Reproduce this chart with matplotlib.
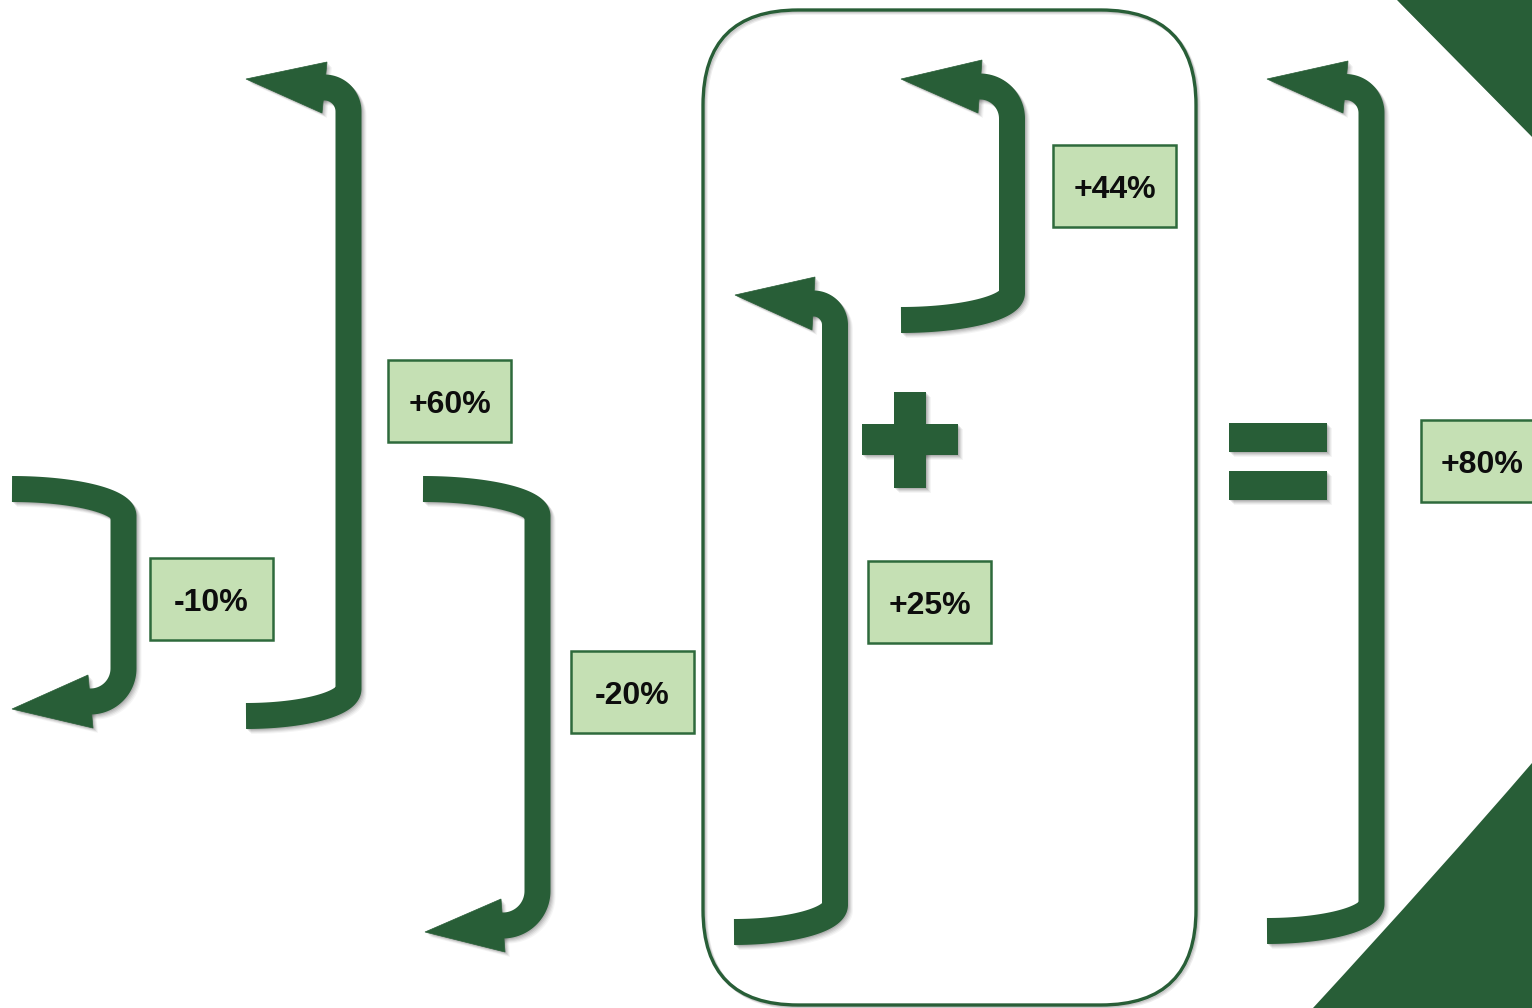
import numpy as np
import matplotlib
matplotlib.use("Agg")
import matplotlib.pyplot as plt
from matplotlib.patches import Polygon, Rectangle, FancyBboxPatch, PathPatch
from matplotlib.path import Path
from matplotlib.transforms import offset_copy

# ---- data ----
labels = ['-10%', '+60%', '-20%', '+25%', '+44%', '+80%']
operators = ['+', '=']

# ---- layout (pixel coordinates, y downward) ----
tail_x = [12, 246, 423, 734, 901, 1267]
tail_y = [489, 716, 489, 932, 320, 931]
stem_x = [123.5, 348.5, 537.5, 835, 1012, 1371.5]
head_top = [(88, 675), (327, 62), (501, 899), (815, 277), (982, 60), (1348, 61)]
head_bot = [(93, 728), (322, 113), (505, 952), (812, 330), (978, 113), (1343, 113)]
head_tip = [(12, 709), (246, 79), (425, 932), (735, 295), (901, 79), (1267, 79)]
label_box = [(150, 558), (388, 360), (571, 651), (868, 561), (1053, 145), (1421, 420)]
LBW, LBH = 123, 82

GREEN = '#285E37'
LIGHT = '#C5E0B4'
EDGE = '#2E6A3C'

W, H = 1532, 1008
fig = plt.figure(figsize=(W / 100, H / 100), dpi=100)
ax = fig.add_axes([0, 0, 1, 1])
ax.set_xlim(0, W)
ax.set_ylim(H, 0)
ax.axis('off')

LW = 26 * 0.72
SHADOW = [(1, 0.10), (2, 0.08), (3, 0.07), (4, 0.05), (5, 0.04)]


def shadows_line(xs, ys, lw):
    for d, a in SHADOW:
        tr = offset_copy(ax.transData, fig=fig, x=d, y=-d, units='dots')
        ax.plot(xs, ys, lw=lw, color='black', alpha=a, transform=tr,
                solid_capstyle='butt', solid_joinstyle='round', zorder=1)


def shadows_patch(make):
    for d, a in SHADOW:
        p = make()
        p.set_facecolor('black')
        p.set_edgecolor('none')
        p.set_alpha(a)
        p.set_transform(offset_copy(ax.transData, fig=fig, x=d, y=-d, units='dots'))
        p.set_zorder(1)
        ax.add_patch(p)


def arrow(xt, yt, xv, bt, bb, tip, ry=27):
    up = tip[1] < yt
    s = -1 if up else 1
    t = np.linspace(0, np.pi / 2, 40)
    x1 = xt + (xv - xt) * np.sin(t)
    y1 = yt + s * (ry - ry * np.cos(t))
    xb = (bt[0] + bb[0]) / 2
    yb = (bt[1] + bb[1]) / 2
    r = xv - xb
    ph = np.linspace(0, np.pi / 2, 30)
    cy = yb - s * r
    x2 = xb + r * np.cos(ph)
    y2 = cy + s * r * np.sin(ph)
    xs = np.concatenate([x1, x2, [xb - 4]])
    ys = np.concatenate([y1, y2, [yb]])
    shadows_line(xs, ys, LW)
    shadows_patch(lambda: Polygon([bt, tip, bb], closed=True))
    ax.plot(xs, ys, lw=LW, color=GREEN, solid_capstyle='butt',
            solid_joinstyle='round', zorder=3)
    ax.add_patch(Polygon([bt, tip, bb], closed=True, facecolor=GREEN,
                         edgecolor=GREEN, lw=0.5, zorder=3))


# corner shapes
tri_pts = [(1397, 0), (1545, 0), (1545, 150)]
shadows_patch(lambda: Polygon(tri_pts, closed=True))
ax.add_patch(Polygon(tri_pts, closed=True, facecolor=GREEN, edgecolor='none', zorder=2))
br_path = Path([(1545, 749), (1532, 763), (1440, 870), (1313, 1008), (1313, 1020),
                (1545, 1020), (1545, 749)],
               [Path.MOVETO, Path.LINETO, Path.CURVE3, Path.CURVE3, Path.LINETO,
                Path.LINETO, Path.CLOSEPOLY])
shadows_patch(lambda: PathPatch(br_path))
ax.add_patch(PathPatch(br_path, facecolor=GREEN, edgecolor='none', zorder=2))

# rounded group box
def mkbox(**kw):
    return FancyBboxPatch((703, 10), 493, 995, boxstyle='round,pad=0,rounding_size=95', **kw)

for d, a in SHADOW[:3]:
    b = mkbox(facecolor='none', edgecolor='black', lw=2.4, alpha=a,
              transform=offset_copy(ax.transData, fig=fig, x=d, y=-d, units='dots'), zorder=1)
    ax.add_patch(b)
ax.add_patch(mkbox(facecolor='none', edgecolor=GREEN, lw=2.4, zorder=2))

# arrows
for i in range(len(labels)):
    arrow(tail_x[i], tail_y[i], stem_x[i], head_top[i], head_bot[i], head_tip[i])

# operators
plus_rects = [(894, 392, 32, 96), (862, 424, 96, 31)]
eq_rects = [(1229, 423, 98, 29), (1229, 471, 98, 29)]
for (x, y, w, h) in plus_rects + eq_rects:
    shadows_patch(lambda: Rectangle((x, y), w, h))
for (x, y, w, h) in plus_rects + eq_rects:
    ax.add_patch(Rectangle((x, y), w, h, facecolor=GREEN, edgecolor='none', zorder=3))

# label boxes
for (bx, by), lab in zip(label_box, labels):
    ax.add_patch(Rectangle((bx, by), LBW, LBH, facecolor=LIGHT, edgecolor=EDGE,
                           lw=1.8, zorder=4))
    ax.text(bx + LBW / 2, by + LBH / 2 + 4, lab, ha='center', va='center',
            fontsize=23, fontweight='bold', family=['Liberation Sans', 'DejaVu Sans'],
            color='#0d0d0d', zorder=5)

fig.savefig('out.png', dpi=100, facecolor='white')
